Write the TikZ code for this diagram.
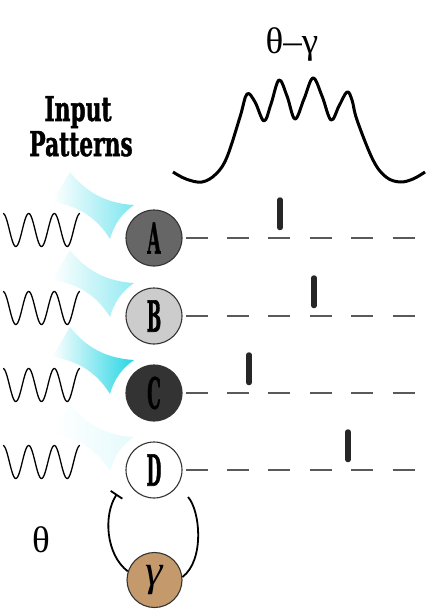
\documentclass[tikz,border=0pt]{standalone}
\usepackage{fontspec}
\usepackage{tikz}
\usetikzlibrary{arrows.meta, positioning, calc}
\newfontfamily\slabfont{DejaVu Serif}[BoldFeatures={FakeBold=1.5}]
\newfontfamily\greekfont{Liberation Serif}
\definecolor{wedgecyan}{RGB}{38,214,228}
\definecolor{gammatan}{RGB}{196,154,108}
\definecolor{rimgray}{RGB}{51,51,51}

\begin{document}
\begin{tikzpicture}[x=1pt, y=-1pt, >=Stealth,
  unit/.style={circle, draw=rimgray, line width=1.1pt, minimum size=56pt, inner sep=0pt},
  spikeline/.style={line width=5.5pt, line cap=round, draw=black!85},
  dashrow/.style={draw=black!65, line width=1.3pt, dash pattern=on 22pt off 19.4pt},
  wave/.style={line width=1.3pt},
  loopline/.style={line width=1.8pt},
  slabtext/.style={font=\fontsize{34}{34}\slabfont\bfseries}]
\useasboundingbox (0,0) rectangle (426,615);
% Theta-gamma label and envelope
\node (thgam) at (292,45) {\fontsize{37}{37}\greekfont θ–γ};
\draw[line width=3pt, line join=round] plot[smooth, tension=0.6] coordinates {
  (173,172) (186,179) (202,182) (216,174) (227,157) (240,117) (247,94)
  (255,102) (264,121) (271,104) (279,80) (287,96) (295,119) (304,99)
  (313,78) (322,96) (331,120) (339,106) (347,92) (352,100) (357,120)
  (373,160) (386,177) (400,182) (413,179) (425,172)};
% Input label
\node[slabtext, anchor=base] (input) at (78,121) {\scalebox{0.64}[1]{Input}};
\node[slabtext, anchor=base] (patterns) at (81,156) {\scalebox{0.64}[1]{Patterns}};
% Units with wedges, inputs, rows and spikes
\foreach \n/\y/\fillc/\pct/\sx in {A/238/black!60/60/280, B/316/black!20/50/314,
                                   C/393/black!80/100/249, D/470/white/12/348} {
  \begin{scope}[shift={(154,\y)}]
    \shade[left color=white, right color=wedgecyan!\pct]
      (-102,-36) -- (-84,-66)
      .. controls (-67.5,-45) and (-46.9,-34.6) .. (-20,-33)
      .. controls (-32.6,-24.2) and (-40,-13.2) .. (-44,1)
      .. controls (-57.3,-20.4) and (-75.9,-32.4) .. cycle;
  \end{scope}
  \node[unit, fill=\fillc] (\n) at (154,\y)
    {\scalebox{0.4}[1]{\fontsize{43}{43}\slabfont\bfseries \n}};
  \draw[wave] plot[domain=0:77, samples=120, smooth]
    ({3+\x}, {\y-8-16.5*cos(14.025*\x)});
  \draw[dashrow] (\n.east) ++(3,0) -- ++(229,0);
  \draw[spikeline] (\sx,{\y-38}) -- (\sx,{\y-10.5});
}
% Theta and gamma loop
\node (theta) at (41,540) {\fontsize{37}{37}\greekfont θ};
\node[unit, fill=gammatan, minimum size=55pt] (gam) at (154.5,580)
  {\fontsize{44}{44}\greekfont\itshape γ};
\coordinate (inhib) at ($(D)+(-37,24)$);
\coordinate (excite) at ($(D)+(34,27)$);
\draw[loopline, -{Bar[width=14pt, line width=1.8pt]}] (gam.162)
  .. controls (106,555) and (103,515) .. (inhib);
\draw[loopline] (excite) .. controls (200,510) and (205,560) .. (gam.6);
\end{tikzpicture}
\end{document}
